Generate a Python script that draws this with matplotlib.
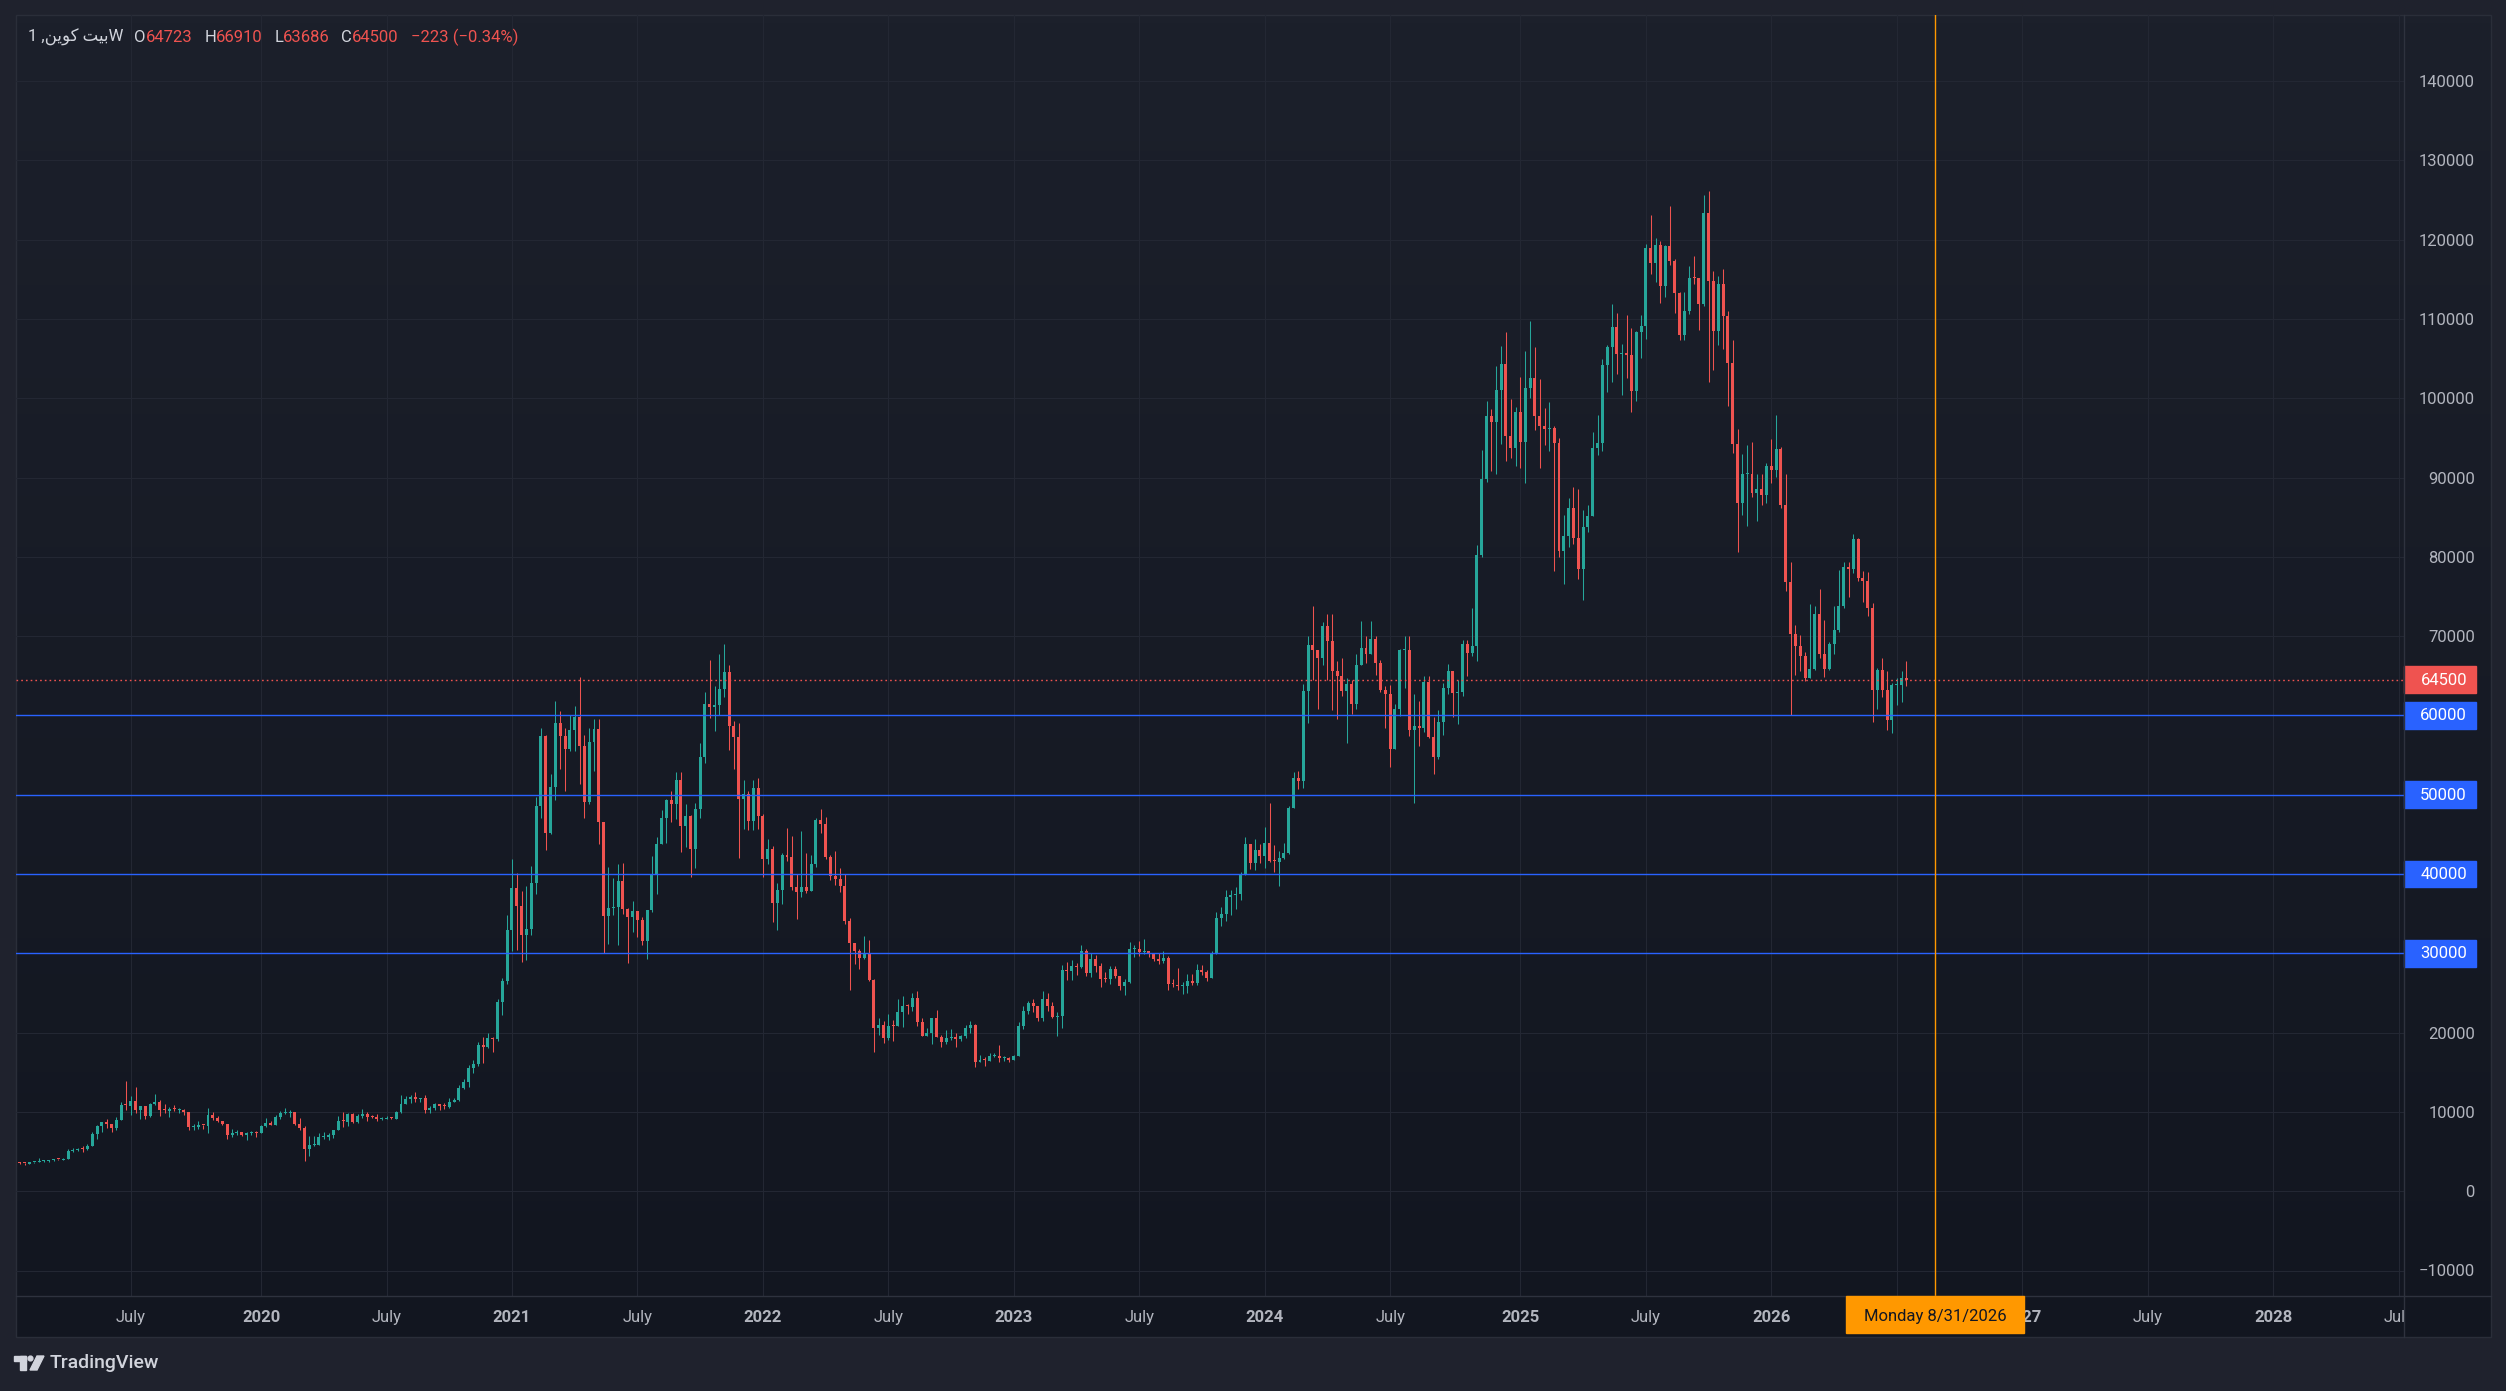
import numpy as np
import pandas as pd
import matplotlib
matplotlib.use('Agg')
import matplotlib.pyplot as plt
from matplotlib.patches import Rectangle, Polygon, Circle
from matplotlib.lines import Line2D
from matplotlib.colors import LinearSegmentedColormap
from matplotlib.transforms import Bbox, TransformedBbox, IdentityTransform, blended_transform_factory

plt.rcParams['font.family'] = ['Roboto', 'DejaVu Sans']

# weekly candles, prices in thousands, first week = Mon 2019-01-07
first_week = '2019-01-07'
first_open = 4.04

c2019 = [3.55, 3.54, 3.53, 3.41, 3.62, 3.67, 3.83, 3.86, 3.92, 4.02, 3.99, 4.10,
         5.06, 5.15, 5.30, 5.27, 5.72, 7.24, 8.18, 8.72, 8.52, 7.99, 8.95, 10.84, 10.75,
         11.40, 10.20, 10.75, 9.47, 10.95, 11.30, 10.20, 10.10, 10.38,
         10.30, 10.30, 10.05, 8.05, 8.15, 8.30, 8.20, 9.55, 9.20,
         8.80, 8.50, 7.05, 7.40, 7.50, 7.10, 7.30, 7.40, 7.35]
h2019 = [4.10, 3.68, 3.65, 3.50, 3.68, 3.71, 4.20, 3.90, 3.93, 4.05, 4.09, 4.15,
         5.35, 5.47, 5.42, 5.65, 5.90, 7.49, 8.34, 8.78, 9.07, 8.36, 9.35, 11.20, 13.88,
         12.00, 13.15, 10.80, 10.60, 11.08, 12.30, 11.45, 10.95, 10.62,
         10.90, 10.47, 10.36, 10.05, 8.52, 8.80, 8.40, 10.54, 9.95,
         9.50, 8.85, 8.50, 7.90, 7.75, 7.50, 7.50, 7.65, 7.55]
l2019 = [3.50, 3.47, 3.48, 3.35, 3.39, 3.57, 3.63, 3.74, 3.69, 3.84, 3.93, 3.94,
         4.10, 4.94, 5.06, 4.98, 5.20, 5.70, 6.60, 7.50, 8.00, 7.45, 7.75, 8.95, 10.30,
         9.66, 9.86, 9.10, 9.16, 9.40, 10.93, 9.45, 9.85, 9.36,
         10.15, 9.90, 9.61, 7.70, 7.76, 7.82, 7.90, 7.30, 8.97,
         8.70, 8.40, 6.60, 6.85, 7.10, 7.00, 6.45, 7.15, 6.85]

c2020 = [8.18, 8.65, 8.35, 9.35, 9.90, 9.90, 9.95, 8.53, 8.00, 5.35, 5.80, 5.88, 6.80,
         6.88, 7.10, 7.70, 8.80, 8.72, 9.70, 8.72, 9.45, 9.70, 9.35, 9.30, 9.05, 9.10,
         9.25, 9.15, 9.93, 11.05, 11.60, 11.85, 11.65, 11.70, 10.30,
         10.45, 11.05, 10.75, 10.67, 11.30, 11.50, 13.05, 13.75,
         15.48, 16.05, 18.40, 18.20, 19.35, 19.15, 23.85, 26.50, 33.00]
h2020 = [8.40, 9.18, 8.80, 9.60, 10.10, 10.50, 10.25, 9.95, 9.20, 8.16, 6.90, 6.98, 7.30,
         7.46, 7.30, 7.76, 9.46, 10.05, 9.90, 9.90, 9.70, 10.40, 10.00, 9.60, 9.75, 9.30,
         9.45, 9.35, 10.15, 12.10, 11.95, 12.15, 12.45, 11.80, 12.10,
         10.80, 11.10, 10.95, 11.10, 11.70, 11.70, 13.35, 14.10,
         15.95, 16.50, 18.80, 19.40, 19.90, 19.45, 24.20, 26.90, 34.80]
l2020 = [7.35, 8.10, 8.30, 8.55, 9.15, 9.70, 9.30, 8.40, 7.70, 3.85, 4.44, 5.70, 5.85,
         6.62, 6.47, 6.75, 7.70, 8.10, 8.20, 8.65, 8.60, 9.25, 8.90, 9.20, 8.85, 8.95,
         9.05, 9.05, 9.15, 9.90, 10.95, 11.15, 11.30, 11.20, 9.90,
         9.85, 10.20, 10.20, 10.40, 10.55, 11.20, 11.40, 12.90,
         13.20, 14.85, 15.80, 16.20, 18.00, 17.60, 19.00, 22.20, 26.10]

c2021 = [38.20, 36.00, 32.30, 33.10, 38.90, 48.60, 57.40, 45.20,
         51.00, 59.10, 57.40, 55.80, 58.20, 59.80, 56.20, 49.10, 56.60,
         58.30, 46.50, 34.70, 35.70, 35.80, 39.10, 35.60, 34.60, 35.30,
         34.20, 31.60, 35.40, 39.90, 43.80, 47.10, 49.30, 48.80, 51.80,
         46.00, 47.30, 43.20, 48.20, 54.80, 61.50, 61.10, 61.30,
         63.30, 65.50, 58.70, 57.30, 49.40, 50.10, 46.70, 50.80, 47.30]
h2021 = [41.95, 40.10, 37.85, 38.50, 40.95, 49.70, 58.35, 57.50,
         52.60, 61.80, 60.60, 58.40, 60.10, 61.20, 64.85, 57.50, 58.40,
         59.60, 59.60, 45.80, 40.90, 39.50, 41.30, 41.40, 35.70, 36.60,
         35.00, 34.60, 35.40, 42.30, 44.70, 48.10, 49.40, 50.50, 52.90,
         52.90, 48.80, 47.40, 49.00, 56.50, 62.90, 67.00, 63.70,
         67.70, 69.00, 66.30, 59.30, 59.10, 51.90, 50.50, 51.90, 52.10]
l2021 = [30.25, 30.40, 28.85, 29.20, 32.30, 37.50, 47.00, 43.00,
         45.00, 49.30, 53.25, 50.50, 55.50, 55.50, 51.30, 47.00, 48.80,
         53.00, 43.80, 30.00, 31.20, 34.80, 31.10, 34.90, 28.80, 32.70,
         32.10, 31.10, 29.30, 35.20, 37.50, 43.80, 43.95, 46.50, 46.90,
         42.80, 43.40, 39.60, 40.80, 47.00, 54.00, 59.70, 58.00,
         60.00, 62.30, 55.60, 53.30, 42.00, 45.70, 45.50, 45.60, 45.70]

c2022 = [41.85, 43.10, 36.30, 38.00, 42.40, 42.20, 38.30, 37.70, 38.40,
         37.80, 41.30, 46.80, 46.30, 42.20, 39.70, 39.40, 38.50,
         34.10, 31.30, 30.30, 29.40, 29.90, 26.60, 20.55, 21.00, 19.30,
         20.85, 20.80, 22.60, 23.30, 23.20, 24.40, 21.30, 19.55, 20.00,
         21.80, 19.40, 18.80, 19.30, 19.45, 19.20, 19.55, 20.60, 20.90,
         16.30, 16.50, 16.45, 17.10, 17.10, 16.80, 16.85, 16.60]
h2022 = [47.55, 44.45, 43.50, 38.90, 42.60, 45.85, 44.75, 40.00, 45.40,
         42.60, 42.40, 47.00, 48.20, 47.20, 42.40, 42.95, 40.80,
         40.00, 34.40, 31.00, 30.50, 32.20, 31.70, 26.80, 21.85, 21.50,
         22.40, 21.60, 24.20, 24.65, 23.65, 25.00, 25.20, 21.80, 20.55,
         21.85, 22.80, 19.70, 20.35, 20.45, 19.95, 19.70, 20.90, 21.45,
         21.05, 17.20, 16.90, 17.40, 17.40, 18.40, 17.10, 16.90]
l2022 = [39.65, 41.25, 34.00, 32.95, 36.25, 41.70, 38.00, 34.30, 37.15,
         37.55, 38.20, 40.90, 45.20, 41.90, 39.20, 38.55, 37.70,
         33.70, 25.40, 28.70, 28.00, 29.30, 26.50, 17.60, 19.70, 18.75,
         19.10, 18.90, 20.80, 20.70, 22.40, 22.70, 20.80, 19.55, 19.55,
         18.60, 19.40, 18.15, 18.50, 19.10, 18.20, 18.90, 19.30, 20.00,
         15.60, 16.40, 15.80, 16.50, 16.90, 16.30, 16.40, 16.30]

c2023 = [17.10, 20.85, 22.70, 23.75, 23.30, 21.80, 24.30, 23.40, 22.00,
         22.10, 27.95, 27.80, 28.45, 28.30, 30.30, 27.50, 29.30,
         28.40, 26.80, 26.75, 28.05, 27.20, 25.85, 26.35, 30.50, 30.60,
         30.20, 30.30, 29.90, 29.30, 29.05, 29.40, 26.10, 26.00, 25.85,
         25.85, 26.50, 26.25, 27.95, 27.70, 26.85, 29.90, 34.50, 34.90,
         37.05, 37.35, 37.45, 39.90, 43.75, 41.35, 43.00, 42.30]
h2023 = [17.20, 21.30, 23.30, 23.95, 24.25, 23.40, 25.25, 25.00, 23.90,
         22.60, 28.50, 28.90, 29.20, 28.75, 31.00, 30.50, 30.00,
         29.80, 28.80, 27.65, 28.45, 28.45, 27.15, 26.80, 31.40, 31.00,
         31.50, 31.80, 30.35, 29.50, 30.05, 30.25, 29.70, 26.80, 28.15,
         26.40, 27.40, 27.45, 28.60, 28.55, 27.95, 30.35, 35.20, 35.90,
         38.00, 37.95, 38.40, 40.20, 44.70, 43.45, 44.40, 43.80]
l2023 = [16.50, 17.20, 20.40, 22.40, 22.60, 21.40, 21.50, 22.75, 21.90,
         19.55, 20.60, 26.60, 26.60, 27.25, 28.20, 27.15, 26.95,
         27.70, 25.80, 26.35, 26.10, 26.90, 25.35, 24.80, 26.25, 29.50,
         29.70, 29.90, 29.50, 29.00, 28.60, 28.75, 25.40, 25.75, 25.35,
         24.90, 24.95, 26.00, 26.00, 27.30, 26.55, 26.85, 29.90, 33.40,
         34.05, 34.85, 35.60, 36.75, 39.95, 40.60, 40.55, 41.40]

c2024 = [43.95, 41.60, 41.55, 42.00, 42.60, 48.30, 52.10, 51.70, 63.10,
         68.90, 68.30, 67.20, 71.30, 69.35, 65.60, 64.95, 63.10, 64.00,
         61.50, 66.40, 68.50, 67.75, 69.60, 66.60, 63.20, 62.70,
         55.80, 60.80, 68.20, 68.30, 58.20, 58.70, 58.45, 64.20, 57.30,
         54.80, 59.20, 63.50, 65.60, 62.80, 63.00, 69.00, 67.90, 68.70,
         80.20, 89.80, 97.70, 97.00, 101.00, 104.30, 95.20, 93.70, 98.30]
h2024 = [45.90, 49.00, 43.60, 42.85, 43.85, 48.55, 52.80, 52.95, 64.00,
         69.95, 73.80, 68.25, 71.75, 72.75, 72.80, 66.85, 67.20, 64.75,
         64.50, 67.70, 71.95, 70.00, 71.95, 70.00, 66.95, 63.75,
         63.80, 61.45, 68.35, 70.00, 70.05, 62.70, 61.80, 65.00, 64.95,
         59.80, 60.70, 64.10, 66.50, 65.55, 64.50, 69.50, 69.50, 73.60,
         81.50, 93.45, 99.60, 98.70, 104.10, 106.60, 108.35, 99.95, 98.95]
l2024 = [40.70, 41.50, 40.30, 38.50, 41.90, 42.55, 48.40, 50.70, 50.90,
         59.00, 64.50, 60.75, 66.35, 64.50, 60.70, 59.60, 62.40, 56.55,
         60.20, 60.80, 66.70, 66.60, 68.50, 65.05, 62.95, 58.40,
         53.50, 56.00, 59.90, 63.40, 57.35, 49.00, 56.10, 57.85, 57.20,
         52.55, 54.55, 57.50, 62.70, 59.80, 58.90, 62.50, 65.00, 67.50,
         66.80, 80.00, 89.40, 90.80, 90.50, 94.20, 92.10, 92.50, 91.50]

c2025 = [94.50, 101.30, 102.60, 97.70, 96.50, 96.10, 96.30, 94.30,
         80.70, 82.60, 86.10, 82.40, 78.40, 83.70, 85.10, 93.70, 94.30,
         104.20, 106.40, 109.00, 105.60, 105.70, 105.50, 100.90, 108.30, 109.10,
         118.90, 117.10, 119.30, 114.10, 119.20, 117.30, 113.30, 108.00,
         111.00, 115.20, 115.10, 111.90, 123.30, 114.80, 108.50, 114.40, 110.40,
         104.50, 94.20, 86.80, 90.40, 90.40, 88.00, 88.60, 87.80, 91.50]
h2025 = [102.70, 105.90, 109.70, 106.50, 102.40, 98.80, 99.50, 96.50,
         95.00, 85.30, 87.40, 88.80, 88.50, 85.90, 86.50, 95.80, 97.90,
         104.90, 106.70, 111.90, 110.70, 106.80, 110.50, 108.90, 108.50, 110.50,
         119.40, 123.10, 120.20, 119.80, 119.30, 124.30, 117.60, 113.40,
         113.40, 116.70, 117.90, 113.40, 125.60, 126.10, 116.00, 115.40, 116.30,
         111.00, 107.40, 96.10, 93.00, 94.10, 94.50, 90.40, 90.50, 91.80]
l2025 = [91.20, 89.30, 100.00, 96.00, 91.20, 94.10, 93.30, 78.20,
         80.00, 76.60, 81.20, 81.60, 77.20, 74.60, 83.10, 86.50, 92.80,
         93.40, 100.80, 102.00, 103.10, 100.40, 102.60, 98.20, 99.60, 105.10,
         107.50, 115.70, 114.70, 112.00, 112.70, 116.80, 110.70, 107.30,
         107.30, 110.60, 114.40, 108.60, 111.60, 102.00, 103.50, 106.70, 106.20,
         99.00, 93.10, 80.60, 85.30, 83.90, 87.50, 84.50, 86.50, 86.80]

c2026 = [90.90, 93.60, 86.50, 76.80, 70.30, 68.80, 67.50, 64.70,
         65.90, 72.80, 67.70, 65.90, 69.00, 70.80, 73.80, 78.70, 78.40,
         82.20, 77.30, 76.90, 73.50, 63.20, 65.70, 63.20, 59.40, 63.80,
         63.80, 64.723, 64.50]
h2026 = [94.80, 97.90, 93.80, 90.50, 79.30, 71.40, 70.10, 68.00,
         74.00, 73.80, 76.00, 72.00, 69.30, 73.80, 78.30, 79.40, 79.40,
         82.90, 82.40, 78.20, 78.10, 74.20, 66.00, 67.30, 65.60, 64.10,
         64.70, 65.60, 66.91]
l2026 = [89.30, 90.10, 86.10, 75.70, 60.00, 65.10, 65.60, 64.40,
         65.40, 65.70, 67.30, 64.90, 65.70, 67.80, 70.50, 73.50, 74.90,
         78.00, 76.90, 74.30, 72.50, 59.20, 60.80, 62.30, 58.20, 57.80,
         61.30, 61.70, 63.686]

levels = [60000, 50000, 40000, 30000]
cross_date = '2026-08-31'

# ---- assemble
close = np.array(c2019 + c2020 + c2021 + c2022 + c2023 + c2024 + c2025 + c2026) * 1000
high = np.array(h2019 + h2020 + h2021 + h2022 + h2023 + h2024 + h2025 + h2026) * 1000
low = np.array(l2019 + l2020 + l2021 + l2022 + l2023 + l2024 + l2025 + l2026) * 1000
opn = np.concatenate([[first_open * 1000], close[:-1]])
high = np.maximum(high, np.maximum(opn, close))
low = np.minimum(low, np.minimum(opn, close))
n = len(close)
xs = np.arange(n) - 1  # index 0 = 2019-01-14

all_dates = pd.date_range(first_week, periods=520, freq='W-MON')
all_idx = np.arange(len(all_dates)) - 1

# ---- geometry (pixels)
W, H, DPI = 2506, 1391, 100
L, R, T, B = 16, 2404, 15, 1296
PR, PB = 2491, 1337
PX0, PXW = 15.0, 4.825     # x pixel of index 0, pixels per bar
Y0, YS = 1191.2, 0.00793   # pixel of price 0, pixels per unit
XLIM = ((L - PX0) / PXW, (R - PX0) / PXW)
YLIM = ((Y0 - B) / YS, (Y0 - T) / YS)

BG_TOP, BG_BOT = '#1c202b', '#121620'
GRID = '#232733'
TXT = '#b2b5be'
UP, DOWN = '#26a69a', '#ef5350'
BLUE = '#2962ff'
ORANGE = '#ff9800'

fig = plt.figure(figsize=(W / DPI, H / DPI), dpi=DPI, facecolor='#1f222d')

def fr(x0, y0, x1, y1):
    return [x0 / W, 1 - y1 / H, (x1 - x0) / W, (y1 - y0) / H]

bg = fig.add_axes(fr(L, T, PR, PB), zorder=-5)
grad = np.linspace(1, 0, 256).reshape(-1, 1)
bg.imshow(grad, aspect='auto', cmap=LinearSegmentedColormap.from_list('bg', [BG_BOT, BG_TOP]),
          extent=[0, 1, 0, 1], interpolation='bicubic')
bg.axis('off')

ax = fig.add_axes(fr(L, T, R, B), facecolor='none', zorder=1)
for s in ax.spines.values():
    s.set_visible(False)

# separators and frame
sep = '#2e323e'
fig.add_artist(Line2D([R, R], [H - T, H - PB], color=sep, lw=1, transform=IdentityTransform()))
fig.add_artist(Line2D([L, PR], [H - B, H - B], color=sep, lw=1, transform=IdentityTransform()))
fig.add_artist(Rectangle((L, H - PB), PR - L, PB - T, fill=False, ec='#2a2e39', lw=1,
                         transform=IdentityTransform()))

# grid
yt = list(range(-10000, 140001, 10000))
for v in yt:
    ax.axhline(v, color=GRID, lw=0.8, zorder=0)

cross_i = all_idx[np.argmax(all_dates == pd.Timestamp(cross_date))]
cx = PX0 + PXW * cross_i

tick_idx, tick_lbl, tick_year = [], [], []
for y in range(2019, 2029):
    for m in (1, 7):
        sel = (all_dates.year == y) & (all_dates.month == m)
        if sel.any():
            i = all_idx[np.argmax(sel)]
            if i >= 0:
                tick_idx.append(i)
                px = PX0 + PXW * i
                # the label under the crosshair date box is hidden, as on screen
                hidden = abs(px - cx) < 60
                tick_lbl.append('' if hidden else ('July' if m == 7 else str(y)))
                tick_year.append(m == 1)
for i in tick_idx:
    ax.axvline(i, color=GRID, lw=0.8, zorder=0)

# candles
cols = np.where(close >= opn, UP, DOWN)
px_unit = 1 / YS
body_h = close - opn
body_h = np.where(np.abs(body_h) < px_unit, px_unit, body_h)
ax.vlines(xs, low, high, colors=cols, lw=0.75, zorder=3)
ax.bar(xs, body_h, bottom=opn, width=0.62, color=cols, linewidth=0, zorder=4)

# horizontal levels and last price
for lv in levels:
    ax.axhline(lv, color=BLUE, lw=1.0, zorder=5)
ax.axhline(close[-1], color=DOWN, lw=1.0, ls=(0, (1.2, 2.2)), zorder=5)

# crosshair
ax.axvline(cross_i, color=ORANGE, lw=1.0, zorder=6)

# x axis labels
ax.set_xticks(tick_idx)
ax.set_xticklabels(tick_lbl)
ax.tick_params(axis='x', length=0, pad=10, colors=TXT, labelsize=12)
clipbox = TransformedBbox(Bbox([[L / W, 0], [R / W, 1]]), fig.transFigure)
for lab, yr in zip(ax.get_xticklabels(), tick_year):
    lab.set_clip_box(clipbox)
    lab.set_clip_on(True)
    if yr:
        lab.set_fontweight('bold')

# y axis labels on the right
ax.yaxis.tick_right()
ax.set_yticks(yt)
ax.set_yticklabels(['' if v in levels else ('\u2212' + str(-v) if v < 0 else str(v)) for v in yt])
ax.tick_params(axis='y', length=0, pad=(2475 - R) * 0.72, colors=TXT, labelsize=12)
for lab in ax.get_yticklabels():
    lab.set_ha('right')

ax.set_xlim(*XLIM)
ax.set_ylim(*YLIM)

# price badges
trans = blended_transform_factory(ax.transAxes, ax.transData)
bw = (2476 - R) / (R - L)
hh = 13.3 / YS
for v, c in [(int(round(close[-1])), DOWN)] + [(lv, BLUE) for lv in levels]:
    ax.add_patch(Rectangle((1.0, v - hh), bw, 2 * hh, transform=trans, color=c,
                           clip_on=False, zorder=7))
    ax.text(1 + (2467 - R) / (R - L), v - 0.5 / YS, str(v), transform=trans, ha='right',
            va='center', color='white', fontsize=12, clip_on=False, zorder=8)

# crosshair time label
d = all_dates[np.argmax(all_dates == pd.Timestamp(cross_date))]
fig.add_artist(Rectangle((cx - 89, H - 1333), 178, 1333 - B, color=ORANGE, zorder=10,
                         transform=IdentityTransform()))
fig.text(cx / W, 1 - 1317 / H, f'{d.day_name()} {d.month}/{d.day}/{d.year}', ha='center',
         va='center', color='#131722', fontsize=12, zorder=11)

# legend / title line
renderer = fig.canvas.get_renderer()
ty = 1 - 37 / H
name = '1 ,' + '\uFEE6\uFBFE\uFEEE\uFB90' + ' ' + '\uFE96\uFBFF\uFE91' + 'W'
o_, h_, l_, c_ = (int(round(v)) for v in (opn[-1], high[-1], low[-1], close[-1]))
chg = c_ - o_
pct = chg / o_ * 100
sign = '\u2212' if chg < 0 else '+'
pieces = [(name, '#d1d4dc', 11.5), ('O', '#d1d4dc', 0), (str(o_), DOWN, 11.5),
          ('H', '#d1d4dc', 0), (str(h_), DOWN, 11.5), ('L', '#d1d4dc', 0), (str(l_), DOWN, 11.5),
          ('C', '#d1d4dc', 0), (str(c_), DOWN, 12),
          (f'{sign}{abs(chg)} ({sign}{abs(pct):.2f}%)', DOWN, 0)]
xpos = 27.5
for s, col, gap in pieces:
    t = fig.text(xpos / W, ty, s, color=col, fontsize=12, va='center', ha='left',
                 family=['Roboto', 'DejaVu Sans'])
    bb = t.get_window_extent(renderer)
    xpos = bb.x1 + gap

# TradingView logo
lc = '#d1d4dc'
idt = IdentityTransform()
fig.add_artist(Rectangle((14, H - 1361), 12, 5, color=lc, transform=idt))
fig.add_artist(Rectangle((20, H - 1370), 6, 14, color=lc, transform=idt))
fig.add_artist(Circle((30.5, H - 1358.5), 2.4, color=lc, transform=idt))
fig.add_artist(Polygon([(30, H - 1370), (37, H - 1356), (44, H - 1356), (37, H - 1370)],
                       closed=True, color=lc, transform=idt))
fig.text(50 / W, 1 - 1363 / H, 'TradingView', color=lc, fontsize=14, va='center', ha='left',
         fontweight='medium')

fig.savefig('out.png', dpi=DPI, facecolor=fig.get_facecolor())
